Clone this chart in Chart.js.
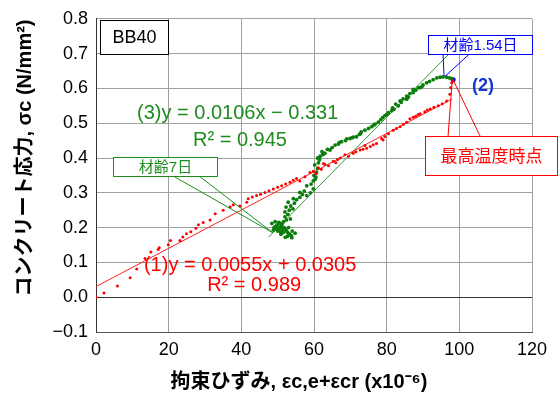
<!DOCTYPE html>
<html>
<head>
<meta charset="utf-8">
<script src="https://cdn.jsdelivr.net/npm/chart.js@4.4.1/dist/chart.umd.min.js"></script>
<style>
  html, body { margin: 0; padding: 0; background: #fff; }
  #wrap { width: 559px; height: 398px; }
</style>
</head>
<body>
<div id="wrap"><canvas id="stressChart" width="559" height="398"></canvas></div>
<script>
// axis ticks
const xTicks = [0, 20, 40, 60, 80, 100, 120];
const yTicks = [-0.1, 0, 0.1, 0.2, 0.3, 0.4, 0.5, 0.6, 0.7, 0.8];

// (1) red points: up to the max temperature
const redX = [0, 2.2, 5.9, 9.4, 11.2, 13.5, 15.1, 17.1, 17.4, 19.9, 20.5, 23.1, 23.9, 24.9, 26.1, 27.5, 28.2,
  29.5, 31.4, 32.8, 35, 36.9, 37.8, 39.6, 41.5, 41.9, 43, 44.2, 45.3, 46.5, 47.6, 48.8, 50, 51.1, 52.2, 53.4,
  54.3, 55.2, 56.1, 57.5, 58.9, 59.8, 60.5, 61.2, 62, 63, 64, 65.3, 66, 67.2, 68.5, 69.5, 70.8, 71.5, 72.7,
  73.5, 74.5, 75.5, 76.3, 77.2, 78.6, 79.5, 80.5, 81.8, 82.7, 83.7, 84.6, 85.5, 86.4, 87.3, 88.7, 89.2, 90.5,
  92, 93, 94.2, 95.3, 96.5, 97.4, 97.6, 97.9, 98.2, 91.2, 88, 79, 74, 66.5, 62.6];
const redY = [0, 0.012, 0.032, 0.056, 0.081, 0.111, 0.130, 0.137, 0.142, 0.151, 0.163, 0.163, 0.173, 0.182, 0.188, 0.198, 0.208,
  0.215, 0.222, 0.240, 0.250, 0.259, 0.266, 0.262, 0.273, 0.283, 0.288, 0.292, 0.296, 0.301, 0.306, 0.311, 0.316, 0.320, 0.325, 0.330,
  0.336, 0.341, 0.334, 0.346, 0.358, 0.362, 0.355, 0.372, 0.368, 0.381, 0.378, 0.391, 0.386, 0.400, 0.409, 0.405, 0.414, 0.418, 0.423,
  0.425, 0.428, 0.433, 0.438, 0.442, 0.456, 0.462, 0.470, 0.480, 0.485, 0.490, 0.497, 0.503, 0.513, 0.517, 0.525, 0.527, 0.533,
  0.541, 0.546, 0.550, 0.556, 0.564, 0.583, 0.602, 0.616, 0.622, 0.538, 0.520, 0.452, 0.436, 0.396, 0.384];

// (3) green points: after the max temperature until 7 days
const greenX = [97.9, 96.5, 94.7, 93.8, 92.8, 91, 90, 89.2, 88.7, 87.3, 87.3, 86.4, 85.5, 85.5, 84.5, 83.7, 83.2,
  82.5, 81.6, 81.4, 80.5, 79.5, 78.9, 77.7, 76.8, 75.9, 74, 73, 72.5, 71.7, 70.8, 69.9, 68.7, 67.6, 66.7, 65.8,
  64.4, 63, 62.5, 61.7, 61.5, 61.2, 61, 60.7, 60.5, 60.3, 59.8, 59.8, 58, 58, 56.1, 56.1, 54.3, 52.9, 52.3,
  54.2, 52, 52, 53.5, 51.6, 50.6, 49.3, 48.4, 49.3, 50.2, 51.1, 52.5, 53.4, 52.7, 51.5, 50, 53, 54, 51,
  49, 49.8, 50.5, 51.2, 51.8, 52.2, 52.8, 53.2, 53.8, 50.8, 51.4, 49.7, 50.3, 52.4, 52.8, 53.2, 53.6, 54.6,
  55.2, 56.8, 57.3, 59, 59.2, 60, 60.2, 61, 62.2, 63.7, 65, 67, 69, 70.5, 72.8, 75, 76.5, 78.4, 80, 82, 84,
  86, 88, 89.7, 91.8, 95.5, 97.3, 48.8, 50.9, 52.1, 53.9, 54.8];
const greenY = [0.628, 0.632, 0.632, 0.630, 0.625, 0.616, 0.610, 0.602, 0.602, 0.597, 0.588, 0.585, 0.578, 0.569, 0.570, 0.564, 0.550,
  0.555, 0.544, 0.536, 0.530, 0.522, 0.516, 0.503, 0.497, 0.490, 0.480, 0.475, 0.468, 0.461, 0.460, 0.456, 0.450, 0.447, 0.440, 0.437,
  0.423, 0.414, 0.410, 0.405, 0.395, 0.386, 0.370, 0.358, 0.345, 0.339, 0.334, 0.311, 0.320, 0.292, 0.301, 0.287, 0.283, 0.273, 0.259,
  0.254, 0.245, 0.231, 0.225, 0.217, 0.212, 0.217, 0.212, 0.203, 0.194, 0.198, 0.189, 0.179, 0.175, 0.186, 0.190, 0.200, 0.190, 0.205,
  0.200, 0.207, 0.200, 0.210, 0.200, 0.195, 0.185, 0.182, 0.176, 0.188, 0.192, 0.196, 0.215, 0.222, 0.238, 0.250, 0.262, 0.270,
  0.280, 0.295, 0.305, 0.300, 0.325, 0.350, 0.380, 0.400, 0.418, 0.425, 0.430, 0.445, 0.455, 0.458, 0.470, 0.485, 0.495, 0.510, 0.525, 0.540, 0.560,
  0.575, 0.595, 0.605, 0.620, 0.633, 0.630, 0.193, 0.181, 0.172, 0.171, 0.184];

// (2) max temperature point
const peakX = [98.3];
const peakY = [0.625];

// regression lines: [slope, intercept] and x range drawn
const fit1Coef = [0.0055, 0.0305];
const fit1Range = [0, 98];
const fit3Coef = [0.0106, -0.331];
const fit3Range = [47.5, 97.3];

function toPoints(xs, ys) {
  return xs.map((x, i) => ({ x: x, y: ys[i] }));
}

function fitLine(coef, range) {
  return range.map(x => ({ x: x, y: coef[0] * x + coef[1] }));
}

const latin = '"Liberation Sans", Arial, sans-serif';
const cjk = '"Liberation Sans", "Noto Sans CJK JP", sans-serif';

// text boxes and callouts (data coordinates)
const boxes = [
  { text: 'BB40', x0: 1.1, x1: 19.8, y0: 0.797, y1: 0.699, color: '#000', font: '18px ' + latin },
  { text: '材齢7日', x0: 4.6, x1: 33.2, y0: 0.403, y1: 0.348, color: '#1e8c1e', font: '15px ' + cjk },
  { text: '材齢1.54日', x0: 91.3, x1: 119.9, y0: 0.754, y1: 0.700, color: '#0000ff', font: '15px ' + cjk },
  { text: '最高温度時点', x0: 90.6, x1: 126.9, y0: 0.463, y1: 0.350, color: '#ff0000', font: '17px ' + cjk }
];

const leaders = [
  { from: [21.3, 0.348], to: [48.7, 0.185], color: '#1e8c1e' },
  { from: [28.4, 0.348], to: [48.7, 0.185], color: '#1e8c1e' },
  { from: [95.5, 0.700], to: [95.8, 0.635], color: '#0000ff' },
  { from: [102.9, 0.700], to: [96.1, 0.635], color: '#0000ff' },
  { from: [96.9, 0.463], to: [98.0, 0.617], color: '#ff0000' },
  { from: [105.7, 0.463], to: [98.5, 0.620], color: '#ff0000' }
];

const labels = [
  { text: '(3)y = 0.0106x − 0.331', x: 11.3, y: 0.527, color: '#1e8c1e', font: '20px ' + latin },
  { text: 'R² = 0.945', x: 26.7, y: 0.451, color: '#1e8c1e', font: '20px ' + latin },
  { text: '(1)y = 0.0055x + 0.0305', x: 13.2, y: 0.090, color: '#ff0000', font: '20px ' + latin },
  { text: 'R² = 0.989', x: 30.6, y: 0.033, color: '#ff0000', font: '20px ' + latin },
  { text: '(2)', x: 103.5, y: 0.606, color: '#1537d8', font: 'bold 18px ' + latin }
];

const notesPlugin = {
  id: 'notes',
  afterDatasetsDraw(chart) {
    const c = chart.ctx;
    const xs = chart.scales.x;
    const ys = chart.scales.y;
    c.save();
    c.lineWidth = 1;

    leaders.forEach(l => {
      c.strokeStyle = l.color;
      c.beginPath();
      c.moveTo(xs.getPixelForValue(l.from[0]), ys.getPixelForValue(l.from[1]));
      c.lineTo(xs.getPixelForValue(l.to[0]), ys.getPixelForValue(l.to[1]));
      c.stroke();
    });

    boxes.forEach(b => {
      const left = Math.round(xs.getPixelForValue(b.x0)) + 0.5;
      const right = Math.round(xs.getPixelForValue(b.x1)) + 0.5;
      const top = Math.round(ys.getPixelForValue(b.y0)) + 0.5;
      const bottom = Math.round(ys.getPixelForValue(b.y1)) + 0.5;
      c.fillStyle = '#fff';
      c.fillRect(left, top, right - left, bottom - top);
      c.strokeStyle = b.color;
      c.strokeRect(left, top, right - left, bottom - top);
      c.fillStyle = b.color;
      c.font = b.font;
      c.textAlign = 'center';
      c.textBaseline = 'middle';
      c.fillText(b.text, (left + right) / 2, (top + bottom) / 2 + 1);
    });

    labels.forEach(t => {
      c.fillStyle = t.color;
      c.font = t.font;
      c.textAlign = 'left';
      c.textBaseline = 'middle';
      c.fillText(t.text, xs.getPixelForValue(t.x), ys.getPixelForValue(t.y));
    });

    // axis titles
    c.fillStyle = '#000';
    c.font = 'bold 20px ' + cjk;
    c.textAlign = 'center';
    c.textBaseline = 'middle';
    c.fillText('拘束ひずみ, εc,e+εcr (x10⁻⁶)', 299, 382);

    c.translate(25, 158);
    c.rotate(-Math.PI / 2);
    c.fillText('コンクリート応力, σc (N/mm²)', 0, 0);
    c.restore();
  }
};

const ctx = document.getElementById('stressChart').getContext('2d');

const stressChart = new Chart(ctx, {
  type: 'scatter',
  data: {
    datasets: [
      {
        label: '(1)',
        data: toPoints(redX, redY),
        backgroundColor: '#ff0000',
        borderColor: '#ff0000',
        borderWidth: 0,
        pointRadius: 1.5
      },
      {
        label: '(3)',
        data: toPoints(greenX, greenY),
        backgroundColor: '#0a7d0a',
        borderColor: '#0a7d0a',
        borderWidth: 0,
        pointRadius: 1.9
      },
      {
        label: 'fit (1)',
        type: 'line',
        data: fitLine(fit1Coef, fit1Range),
        borderColor: '#ff2020',
        borderWidth: 1,
        pointRadius: 0,
        fill: false
      },
      {
        label: 'fit (3)',
        type: 'line',
        data: fitLine(fit3Coef, fit3Range),
        borderColor: '#2e9a2e',
        borderWidth: 1,
        pointRadius: 0,
        fill: false
      },
      {
        label: '(2)',
        data: toPoints(peakX, peakY),
        backgroundColor: '#0000ff',
        borderColor: '#0000ff',
        borderWidth: 0,
        pointRadius: 2.5
      }
    ]
  },
  options: {
    responsive: false,
    animation: false,
    devicePixelRatio: 1,
    layout: { padding: { left: 0, right: 27, top: 13, bottom: 0 } },
    plugins: {
      legend: { display: false },
      tooltip: { enabled: false }
    },
    scales: {
      x: {
        type: 'linear',
        min: 0,
        max: 120,
        afterFit: s => { s.height = 66; },
        afterBuildTicks: s => { s.ticks = xTicks.map(v => ({ value: v })); },
        ticks: {
          color: '#000',
          padding: 7,
          font: { family: 'Liberation Sans, Arial, sans-serif', size: 18 },
          callback: v => String(v)
        },
        grid: { color: '#a0a0a0', drawTicks: false },
        border: { color: '#555', width: 1 }
      },
      y: {
        type: 'linear',
        min: -0.1,
        max: 0.8,
        afterFit: s => { s.width = 96; },
        afterBuildTicks: s => { s.ticks = yTicks.map(v => ({ value: v })); },
        ticks: {
          color: '#000',
          padding: 8,
          font: { family: 'Liberation Sans, Arial, sans-serif', size: 18 },
          callback: v => (v < 0 ? '−' : '') + Math.abs(v).toFixed(1)
        },
        grid: {
          color: c => (Math.abs(c.tick.value) < 1e-9 ? '#333' : '#a0a0a0'),
          drawTicks: false
        },
        border: { color: '#333', width: 1 }
      }
    }
  },
  plugins: [notesPlugin]
});
</script>
</body>
</html>
